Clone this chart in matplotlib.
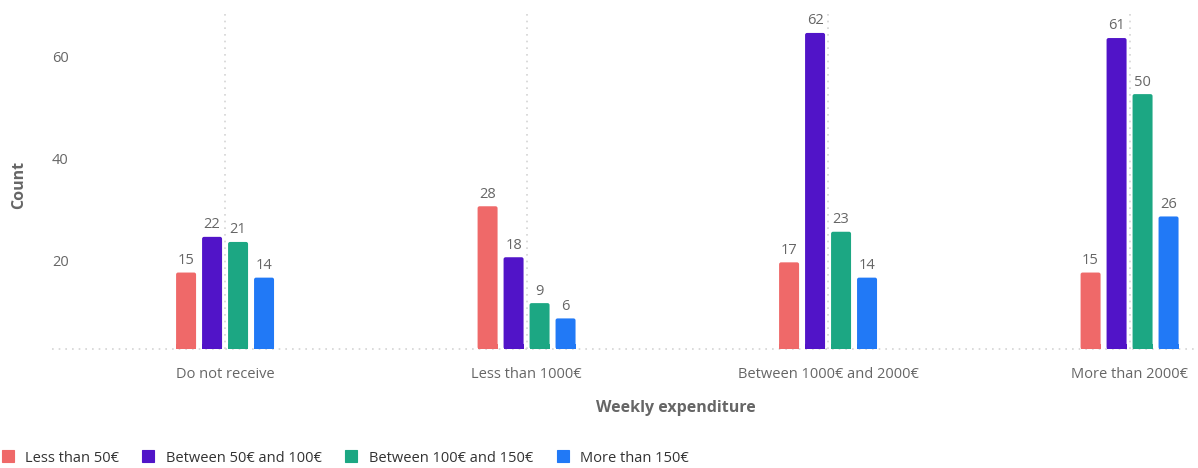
import matplotlib
matplotlib.use("Agg")
import matplotlib.pyplot as plt
import numpy as np
from matplotlib.transforms import ScaledTranslation
from matplotlib.patches import FancyBboxPatch
from matplotlib.lines import Line2D

plt.rcParams['font.family'] = ['Open Sans', 'DejaVu Sans']

categories = ["Do not receive", "Less than 1000€", "Between 1000€ and 2000€", "More than 2000€"]
series_names = ["Less than 50€", "Between 50€ and 100€", "Between 100€ and 150€", "More than 150€"]
less_50 = [15, 28, 17, 15]
between_50_100 = [22, 18, 62, 61]
between_100_150 = [21, 9, 23, 50]
more_150 = [14, 6, 14, 26]
series_values = [less_50, between_50_100, between_100_150, more_150]
colors = ["#EF6969", "#5114C8", "#1CA783", "#2179F6"]
y_ticks = [20, 40, 60]

TEXT = "#666666"
GRID = "#D4D4D4"

W, H, DPI = 1198, 468, 100
fig = plt.figure(figsize=(W / DPI, H / DPI), dpi=DPI)
ax_left, ax_right, ax_top, ax_bottom = 52, 1198, 10, 349
ax = fig.add_axes([ax_left / W, 1 - ax_bottom / H, (ax_right - ax_left) / W, (ax_bottom - ax_top) / H])

x = np.arange(len(categories))
step = 0.0862
bar_w = 0.0663
offsets = (np.arange(len(series_names)) - 1.5) * step

xlim = (-0.574, 3.227)
ylim = (0, 66.5)
px_per_x = (ax_right - ax_left) / (xlim[1] - xlim[0])
px_per_y = (ax_bottom - ax_top) / (ylim[1] - ylim[0])
aspect = px_per_x / px_per_y
radius = 2.0 / px_per_x

for vals, off, col in zip(series_values, offsets, colors):
    bars = ax.bar(x + off, vals, width=bar_w, color=col, zorder=3)
    for b, v in zip(bars, vals):
        b.set_visible(False)
        # rounded top corners, square base
        ax.add_patch(FancyBboxPatch((b.get_x(), 0), b.get_width(), v,
                                    boxstyle=f"round,pad=0,rounding_size={radius}",
                                    mutation_aspect=aspect,
                                    facecolor=col, edgecolor="none", zorder=3))
        ax.add_patch(plt.Rectangle((b.get_x(), 0), b.get_width(), min(v, 1.0),
                                   facecolor=col, edgecolor="none", zorder=3))
        ax.text(b.get_x() + b.get_width() / 2, v + 0.9, str(v), ha="center", va="bottom",
                fontsize=10.5, color=TEXT, zorder=4)

ax.set_xlim(*xlim)
ax.set_ylim(*ylim)

# dotted guides
for xi in x:
    ax.axvline(xi, color=GRID, linestyle=(0, (1, 3)), linewidth=1.2, zorder=1)
ax.axhline(0, color=GRID, linestyle=(0, (1, 3)), linewidth=1.2, zorder=2, clip_on=False)

for s in ax.spines.values():
    s.set_visible(False)

ax.set_xticks(x)
ax.set_xticklabels(categories, fontsize=10.5, color=TEXT)
ax.set_yticks(y_ticks)
ax.set_yticklabels([str(t) for t in y_ticks], fontsize=10.5, color=TEXT)
ax.tick_params(axis="both", length=0)
ax.tick_params(axis="x", pad=13)
ax.tick_params(axis="y", pad=0)
for lbl in ax.get_yticklabels():
    lbl.set_horizontalalignment("left")
    lbl.set_transform(lbl.get_transform() + ScaledTranslation(0, -13 / DPI, fig.dpi_scale_trans))

fig.text(19.5 / W, 1 - 185 / H, "Count", rotation=90, ha="center", va="center",
         fontsize=11.5, fontweight="bold", color=TEXT)
fig.text(676 / W, 1 - 408 / H, "Weekly expenditure", ha="center", va="center",
         fontsize=11.5, fontweight="bold", color=TEXT)

handles = [Line2D([], [], linestyle="none", marker="s", markersize=8.0, markerfacecolor=c,
                  markeredgecolor=c, markeredgewidth=0.8) for c in colors]
fig.legend(handles, series_names, loc="center left", bbox_to_anchor=(1.7 / W, 1 - 458 / H),
           ncol=4, frameon=False, fontsize=10.5, handlelength=0.8, handletextpad=0.8,
           columnspacing=1.62, labelcolor="#333333", borderpad=0, borderaxespad=0)

fig.savefig("out.png", dpi=DPI, facecolor="white")
